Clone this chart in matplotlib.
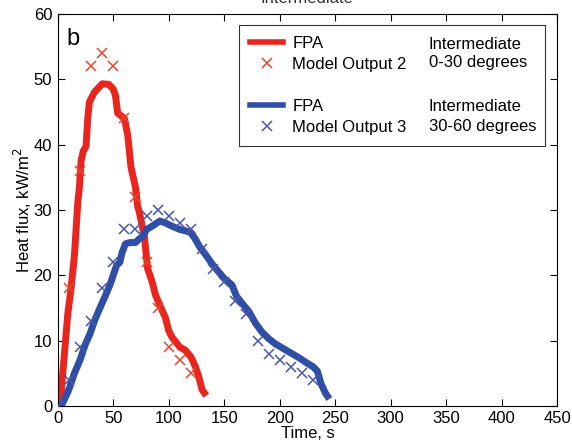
import numpy as np
import matplotlib
matplotlib.use("Agg")
import matplotlib.pyplot as plt
from matplotlib.lines import Line2D

plt.rcParams['font.family'] = ['Liberation Sans', 'DejaVu Sans']

# FPA measured curves (time s, heat flux kW/m2)
fpa2_t = [2, 3, 6, 9, 12, 15, 18, 19.5, 21, 23, 25.5, 27, 28.5, 33, 40, 46, 50, 52, 54, 60,
          63, 66, 70, 72, 73, 78, 81, 85, 88, 93, 97, 100, 103, 110, 115, 120, 124, 127, 130, 132]
fpa2_q = [0, 2, 8, 14, 18, 23, 31, 33.5, 37.5, 39, 39.7, 44, 46.5, 48, 49.3, 49.2, 48.5, 47.5, 44.8, 44,
          41.5, 36.5, 33.5, 30.5, 30, 26, 21, 19, 17, 15, 13.5, 11.5, 10.5, 9, 8.5, 7.5, 6, 4.5, 2.5, 2]

fpa3_t = [0, 3, 6, 10, 15, 20, 25, 29, 33, 38, 42, 47, 50, 53, 56, 58, 61, 65, 70, 73, 77, 80, 85,
          92, 97, 103, 110, 115, 120, 124, 128, 133, 140, 145, 150, 157, 161, 167, 172, 178, 184,
          190, 196, 203, 211, 218, 225, 230, 234, 237, 241, 243]
fpa3_q = [0, 0, 1, 2.5, 5, 7, 9.5, 11, 13, 15, 16.5, 18.5, 20, 21.5, 22, 23.5, 24.8, 25, 25, 25.5, 26, 27, 27.5,
          28.3, 28, 27.5, 27, 26.8, 26.5, 25.5, 24.3, 23.2, 21.5, 20.5, 19.5, 18.5, 16.8, 15.5, 14.5, 12.7, 11.3,
          10.3, 9.5, 8.8, 8, 7.3, 6.5, 6, 5.3, 3.5, 2, 1.5]

# model outputs
mod2_t = [10, 20, 30, 40, 50, 60, 70, 80, 90, 100, 110, 120]
mod2_q = [18, 36, 52, 54, 52, 44, 32, 22, 15, 9, 7, 5]

mod3_t = [0, 10, 20, 30, 40, 50, 60, 70, 80, 90, 100, 110, 120, 130, 140, 150, 160, 170, 180,
          190, 200, 210, 220, 230]
mod3_q = [0, 4, 9, 13, 18, 22, 27, 27, 29, 30, 29, 28, 27, 24, 21, 19, 16, 14, 10, 8, 7, 6, 5, 4]

red = '#e8261e'
blue = '#2f4fa6'
red_x = '#e6452e'
blue_x = '#4b56ab'

fig = plt.figure(figsize=(5.72, 4.47), dpi=100)
ax = fig.add_axes([0.101, 0.092, 0.873, 0.877])

ax.plot(fpa2_t, fpa2_q, color=red, lw=5, solid_joinstyle='round', zorder=2)
ax.plot(fpa3_t, fpa3_q, color=blue, lw=5, solid_joinstyle='round', zorder=2)
ax.plot(mod2_t, mod2_q, ls='none', marker='x', ms=7.5, mew=1.1, color=red_x, zorder=3)
ax.plot(mod3_t, mod3_q, ls='none', marker='x', ms=7.5, mew=1.1, color=blue_x, zorder=3)

ax.set_xlim(0, 450)
ax.set_ylim(0, 60)
ax.set_xticks(np.arange(0, 451, 50))
ax.set_yticks(np.arange(0, 61, 10))
ax.tick_params(direction='in', top=True, right=True, length=5, width=0.8, labelsize=12, pad=4)
for s in ax.spines.values():
    s.set_linewidth(0.8)
ax.set_xlabel('Time, s', fontsize=12, labelpad=0)
ax.set_ylabel('Heat flux, kW/m$^2$', fontsize=12, labelpad=0)

ax.text(0.018, 0.965, 'b', transform=ax.transAxes, fontsize=17, va='top', ha='left')
# panel title, mostly above the cropped top edge
fig.text(0.537, 1 - 3 / 447, 'Intermediate', ha='center', va='baseline', fontsize=12, color='#333333')

handles = [
    Line2D([], [], color=red, lw=4),
    Line2D([], [], ls='none', marker='x', ms=7, mew=1.1, color=red_x),
    Line2D([], [], ls='none'),
    Line2D([], [], color=blue, lw=4),
    Line2D([], [], ls='none', marker='x', ms=7, mew=1.1, color=blue_x),
]
labels = ['FPA', 'Model Output 2', '', 'FPA', 'Model Output 3']
leg = ax.legend(handles, labels, loc='upper left', bbox_to_anchor=(0.363, 0.653, 0.613, 0.319),
                mode='expand', fontsize=12, frameon=True, fancybox=False, handlelength=2.0,
                handletextpad=0.55, labelspacing=0.36, borderpad=0.65, borderaxespad=0)
leg.get_frame().set_edgecolor('black')
leg.get_frame().set_linewidth(0.8)

side = [('Intermediate', 0.923), ('0-30 degrees', 0.875),
        ('Intermediate', 0.763), ('30-60 degrees', 0.712)]
for txt, yy in side:
    ax.text(0.743, yy, txt, transform=ax.transAxes, fontsize=12, va='center', zorder=6)

fig.savefig('out.png', dpi=100)
